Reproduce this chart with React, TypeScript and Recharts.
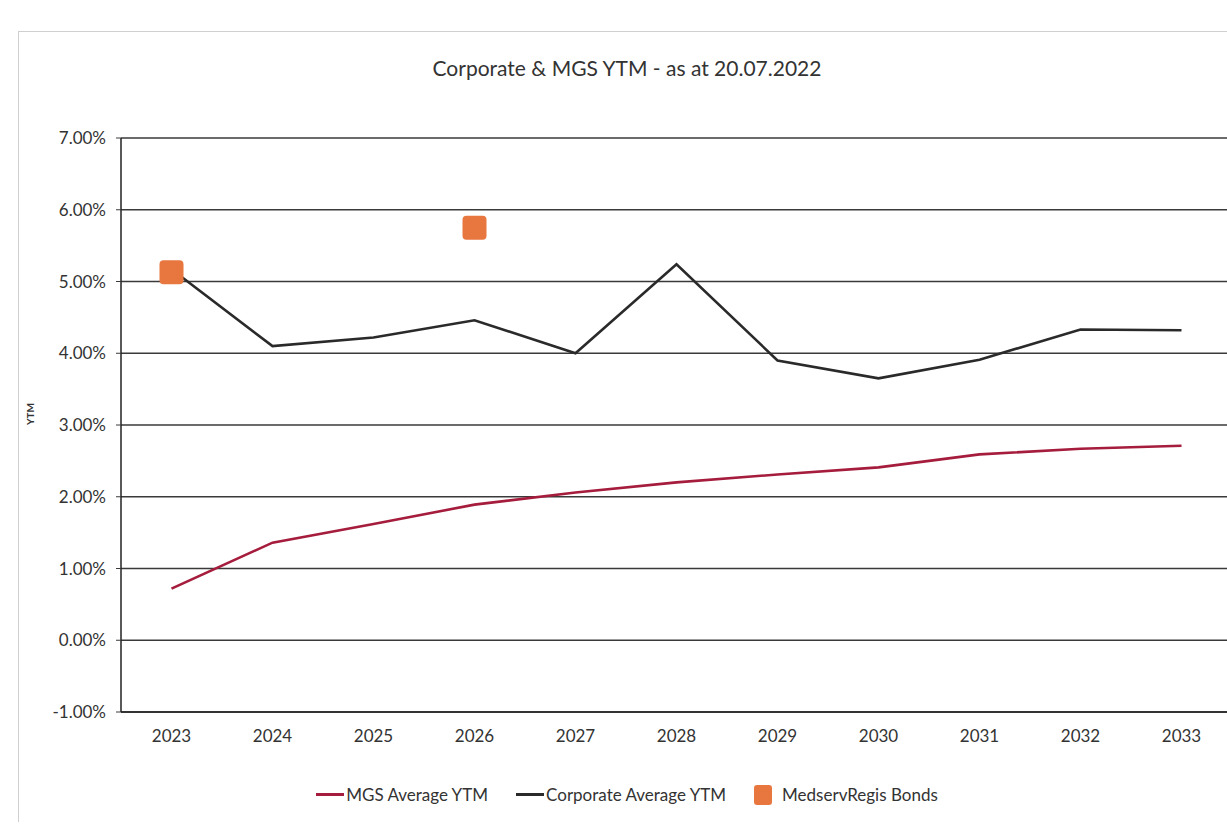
import React from 'react';
import { ComposedChart, Line, Scatter, XAxis, YAxis, CartesianGrid, Label } from 'recharts';

const years = ['2023', '2024', '2025', '2026', '2027', '2028', '2029', '2030', '2031', '2032', '2033'];
const mgsYtm = [0.72, 1.36, 1.62, 1.89, 2.06, 2.2, 2.31, 2.41, 2.59, 2.67, 2.71];
const corpYtm = [5.17, 4.1, 4.22, 4.46, 4.0, 5.24, 3.9, 3.65, 3.91, 4.33, 4.32];
const medservYtm: (number | null)[] = [5.13, null, null, 5.75, null, null, null, null, null, null, null];
const yTicks = [-1, 0, 1, 2, 3, 4, 5, 6, 7];

const data = years.map((y, i) => ({ year: y, mgs: mgsYtm[i], corp: corpYtm[i], medserv: medservYtm[i] }));

const FONT = 'Lato, "Open Sans", sans-serif';
const MGS_COLOR = '#a51c3c';
const CORP_COLOR = '#2a2a2a';
const MED_COLOR = '#e8773f';

const SquareShape = (props: any) => {
  const { cx, cy } = props;
  if (cx == null || cy == null || props.payload?.medserv == null) return null;
  const s = 24;
  return <rect x={cx - s / 2} y={cy - s / 2} width={s} height={s} rx={4} fill={MED_COLOR} />;
};

export default function App() {
  return (
    <div style={{ position: 'absolute', left: 0, top: 0, width: 1227, height: 824, overflow: 'hidden', background: '#fff', fontFamily: FONT }}>
      <div style={{ position: 'absolute', left: 18, top: 31, width: 1400, height: 790, borderLeft: '1px solid #cfcfcf', borderTop: '1px solid #cfcfcf' }} />
      <div style={{ position: 'absolute', left: 0, width: 1254, top: 55, textAlign: 'center', fontSize: 21, color: '#333' }}>
        Corporate &amp; MGS YTM - as at 20.07.2022
      </div>
      <div style={{ position: 'absolute', left: 0, top: 0 }}>
        <ComposedChart width={1250} height={824} data={data} margin={{ top: 138, right: 18, bottom: 72, left: 0 }}>
          <CartesianGrid vertical={false} stroke="#3a3a3a" strokeWidth={1.3} />
          <XAxis
            dataKey="year"
            scale="band"
            height={40}
            tickLine={false}
            axisLine={{ stroke: '#222', strokeWidth: 1.5 }}
            tick={{ fill: '#333', fontSize: 17, fontFamily: FONT }}
            tickMargin={12}
          />
          <YAxis
            width={121}
            domain={[-1, 7]}
            ticks={yTicks}
            interval={0}
            tickFormatter={(v: number) => v.toFixed(2) + '%'}
            tick={{ fill: '#333', fontSize: 17, fontFamily: FONT }}
            tickSize={5}
            tickMargin={10}
            tickLine={{ stroke: '#3a3a3a' }}
            axisLine={{ stroke: '#222', strokeWidth: 1.5 }}
          >
            <Label value="YTM" angle={-90} position="insideLeft" offset={30} style={{ fontSize: 10, fontWeight: 700, fill: '#333', fontFamily: FONT }} />
          </YAxis>
          <Line type="linear" dataKey="mgs" stroke={MGS_COLOR} strokeWidth={2.6} dot={false} isAnimationActive={false} />
          <Line type="linear" dataKey="corp" stroke={CORP_COLOR} strokeWidth={2.6} dot={false} isAnimationActive={false} />
          <Scatter dataKey="medserv" fill={MED_COLOR} shape={SquareShape} isAnimationActive={false} />
        </ComposedChart>
      </div>
      <div style={{ position: 'absolute', top: 784, left: 0, width: 1254, display: 'flex', justifyContent: 'center', alignItems: 'center', fontSize: 17, color: '#333' }}>
        <span style={{ display: 'inline-block', width: 28, height: 2.5, background: MGS_COLOR, marginRight: 2 }} />
        <span style={{ marginRight: 28 }}>MGS Average YTM</span>
        <span style={{ display: 'inline-block', width: 28, height: 3, background: CORP_COLOR, marginRight: 2 }} />
        <span style={{ marginRight: 28 }}>Corporate Average YTM</span>
        <span style={{ display: 'inline-block', width: 18, height: 20, borderRadius: 3, background: MED_COLOR, marginRight: 10 }} />
        <span>MedservRegis Bonds</span>
      </div>
    </div>
  );
}
